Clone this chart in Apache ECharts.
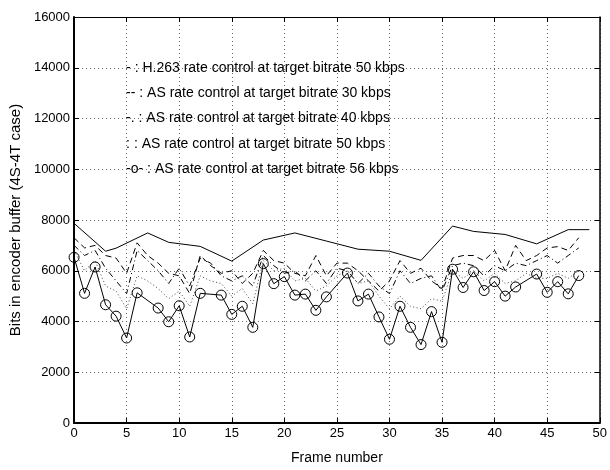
<!DOCTYPE html>
<html>
<head>
<meta charset="utf-8">
<script src="https://cdn.jsdelivr.net/npm/echarts@6/dist/echarts.min.js"></script>
<style>html,body{margin:0;padding:0;background:#fff}#c{width:610px;height:470px}</style>
</head>
<body>
<div id="c"></div>
<script>
// ---- data ----
const frames = [0,1,2,3,4,5,6,7,8,9,10,11,12,13,14,15,16,17,18,19,20,21,22,23,24,25,26,27,28,29,30,31,32,33,34,35,36,37,38,39,40,41,42,43,44,45,46,47,48];

// H.263 rate control (solid) - vertices
const h263Frames = [0,3,4,7,9,12,15,18,21,24,27,30,33,36,38,41,44,47,49];
const h263Values = [7870,6770,6890,7490,7120,6960,6380,7210,7490,7170,6850,6770,6410,7760,7550,7430,7060,7620,7620];

// AS 30 kbps (dashed)
const as30 = [7300,6900,7000,6600,6500,5900,7100,6600,6300,5900,5800,5100,6600,6200,5900,6000,5500,5900,6800,6400,6300,5900,5800,6600,5800,6300,6300,6000,5600,5200,5600,6400,5900,6100,5600,5300,6500,6600,6600,6400,6800,6000,7000,6400,6600,6900,6950,6800,7300];

// AS 40 kbps (dash-dot)
const as40 = [7000,6600,6800,6100,5600,5100,6800,6400,6000,5500,6100,5400,6500,6300,5800,5600,5800,5400,6600,6200,5900,6000,5600,6000,5500,6100,6000,5500,5900,5400,5100,6000,5500,5700,5800,5200,6200,6300,6200,5800,6200,6000,6300,6200,6400,6600,6300,6600,6900];

// AS 50 kbps (dotted)
const as50 = [6800,6000,6400,5400,5200,4500,5800,5600,5300,4900,5200,4600,5800,5600,5500,5000,5300,4700,6400,6000,6100,5600,5700,5200,5400,5800,6000,5500,5600,5000,4500,5000,4600,4500,4900,4800,6000,5700,6000,5600,5900,5500,5600,5900,5700,5700,5900,5700,6000];

// AS 56 kbps (-o-), null where no marker is drawn
const as56 = [6530,5110,6150,4660,4210,3350,5130,null,4530,3990,4620,3390,5110,null,5040,4280,4600,3770,6280,5490,5770,5040,5080,4440,4970,null,5910,4810,5080,4180,3300,4600,3770,3090,4390,3180,6060,5340,5960,5220,5570,5000,5360,null,5870,5150,5570,5090,5810];

const xTicks = [0,5,10,15,20,25,30,35,40,45,50];
const yTicks = [0,2000,4000,6000,8000,10000,12000,14000,16000];

const notes = [
  '- : H.263 rate control at target bitrate 50 kbps',
  '-- : AS rate control at target bitrate 30 kbps',
  '-. : AS rate control at target bitrate 40 kbps',
  ': : AS rate control at target bitrate 50 kbps',
  '-o- : AS rate control at target bitrate 56 kbps'
];
const noteX = 4.95;
const noteY = [14000,13000,12000,11000,10000];

// ---- chart ----
const FONT = 'Liberation Sans, Arial, sans-serif';
const chart = echarts.init(document.getElementById('c'), null, {renderer:'canvas'});
const pairs = (xs, ys) => xs.map((x,i)=>[x, ys[i]]);

const gridLine = {show:true, lineStyle:{color:'#666', width:1, type:[1,3]}};
const baseX = {
  type:'value', min:xTicks[0], max:xTicks[xTicks.length-1], interval:5,
  axisTick:{show:true, inside:true, length:5, lineStyle:{color:'#000'}},
};
const baseY = {
  type:'value', min:yTicks[0], max:yTicks[yTicks.length-1], interval:2000,
  axisTick:{show:true, inside:true, length:5, lineStyle:{color:'#000'}},
};

chart.setOption({
  animation:false,
  backgroundColor:'#fff',
  grid:{left:68, right:10, top:17, bottom:34, containLabel:false},
  xAxis:[
    Object.assign({}, baseX, {
      position:'bottom', name:'Frame number', nameLocation:'middle', nameGap:28,
      nameTextStyle:{fontFamily:FONT, fontSize:14, color:'#000'},
      axisLine:{show:true, onZero:false, lineStyle:{color:'#000', width:2}},
      axisLabel:{fontFamily:FONT, fontSize:13, color:'#000', margin:4},
      splitLine:gridLine
    }),
    Object.assign({}, baseX, {
      position:'top',
      axisLine:{show:true, onZero:false, lineStyle:{color:'#000', width:1.2}},
      axisLabel:{show:false}, splitLine:{show:false}
    })
  ],
  yAxis:[
    Object.assign({}, baseY, {
      position:'left', name:'Bits in encoder buffer (4S-4T case)', nameLocation:'middle', nameGap:39,
      nameTextStyle:{fontFamily:FONT, fontSize:15, color:'#000'},
      axisLine:{show:true, onZero:false, lineStyle:{color:'#000', width:2}},
      axisLabel:{fontFamily:FONT, fontSize:13, color:'#000', margin:4, formatter:v=>String(v)},
      splitLine:gridLine
    }),
    Object.assign({}, baseY, {
      position:'right',
      axisLine:{show:true, onZero:false, lineStyle:{color:'#000', width:1.5}},
      axisLabel:{show:false}, splitLine:{show:false}
    })
  ],
  series:[
    {type:'line', name:'H.263 50', data:pairs(h263Frames,h263Values), showSymbol:false, symbol:'none',
     lineStyle:{color:'#000', width:1}},
    {type:'line', name:'AS 30', data:pairs(frames,as30), symbol:'none',
     lineStyle:{color:'#000', width:1, type:[6,4]}},
    {type:'line', name:'AS 40', data:pairs(frames,as40), symbol:'none',
     lineStyle:{color:'#000', width:1, type:[6,3,1,3]}},
    {type:'line', name:'AS 50', data:pairs(frames,as50), symbol:'none',
     lineStyle:{color:'#444', width:1, type:[1,2.5]}},
    {type:'line', name:'AS 56', data:pairs(frames,as56).filter(p=>p[1]!==null), symbol:'circle', symbolSize:10,
     itemStyle:{color:'rgba(0,0,0,0)', borderColor:'#000', borderWidth:1},
     lineStyle:{color:'#000', width:1}}
  ]
});

const graphics = notes.map((t,i)=>{
  const p = chart.convertToPixel({gridIndex:0}, [noteX, noteY[i]]);
  return {type:'text', x:p[0], y:p[1], style:{text:t, fontFamily:FONT, fontSize:14, fill:'#000', verticalAlign:'middle'}};
});
chart.setOption({graphic:graphics});
</script>
</body>
</html>
